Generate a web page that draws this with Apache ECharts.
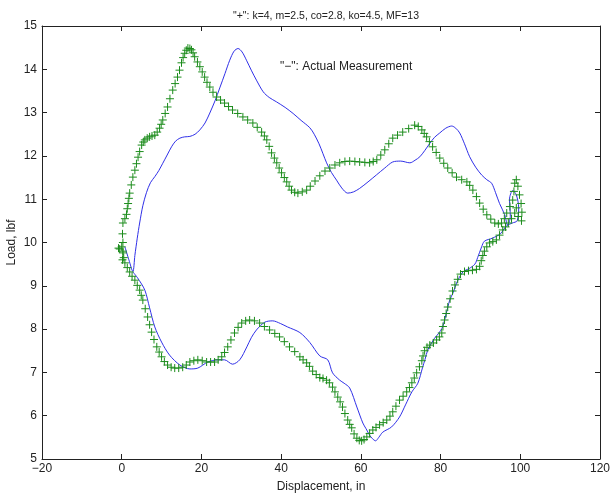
<!DOCTYPE html>
<html><head><meta charset="utf-8">
<script src="https://cdn.jsdelivr.net/npm/echarts@6/dist/echarts.min.js"></script>
<style>html,body{margin:0;padding:0;background:#fff}#c{width:613px;height:495px}</style>
</head><body><div id="c"></div>
<script>
var titleText = '"+": k=4, m=2.5, co=2.8, ko=4.5, MF=13';
var noteText = '"\u2212": Actual Measurement';
var xTicks = [-20, 0, 20, 40, 60, 80, 100, 120];
var yTicks = [5, 6, 7, 8, 9, 10, 11, 12, 13, 14, 15];

// Actual measurement (blue line), in drawing order
var measuredX = [0.8,1.8,2.8,3.3,3.9,4.5,5.3,6.2,7.2,8.3,9.3,10.3,11.4,12.5,13.5,14.6,15.8,17.1,18.4,19.6,20.9,22.1,23.4,24.6,25.9,27.1,28.2,29.2,30.2,31.3,32.5,33.8,35.5,37,38.8,41,43,45,47.2,48.3,49.5,50.5,51.4,52.6,53.9,55.2,56.7,58.2,59.7,61.8,63.9,66,68,70,72.3,73.6,74.8,76,77.3,78.5,79.8,81.3,82.8,83.8,84.8,86,87.3,88.8,90.3,91.6,92.8,93.8,94.8,96.1,96.8,97.5,97.3,98.1,99,99.6,99.2,98,96.5,95,93,91,90.3,89.3,88.6,87.2,85.6,84,83.2,82.3,81.4,80.5,79.5,78.5,76.8,76.1,75.5,74.3,72.8,71.2,69.7,67.7,65.5,64.5,63.7,62.9,62.2,61.3,60.5,59,57.2,55.8,54.7,52.9,51.7,49.7,47.2,44.7,41.6,39.8,37.9,35.9,33.8,32.5,31.4,29.6,27.8,25.8,24.1,21.6,19.1,17.1,14.6,12,10,8.3,7,5.8,4,2.8];
var measuredY = [9.9,9.6,9.33,9.7,10.1,10.45,10.85,11.15,11.38,11.52,11.66,11.83,12.02,12.21,12.34,12.41,12.44,12.45,12.5,12.6,12.76,12.99,13.27,13.57,13.9,14.21,14.42,14.48,14.4,14.21,13.98,13.75,13.48,13.35,13.25,13.12,12.98,12.82,12.65,12.5,12.28,12.05,11.84,11.62,11.44,11.26,11.14,11.17,11.25,11.4,11.56,11.72,11.86,11.88,11.84,11.9,11.98,12.12,12.29,12.43,12.53,12.64,12.69,12.64,12.53,12.28,11.98,11.74,11.56,11.45,11.37,11.15,10.9,10.64,10.4,10.6,11.0,11.2,11.1,10.8,10.5,10.45,10.38,10.2,10.1,10.03,9.9,9.65,9.5,9.4,9.32,9.06,8.85,8.67,8.35,8.05,7.9,7.79,7.52,7.3,7.12,6.75,6.55,6.25,5.97,5.74,5.62,5.5,5.42,5.47,5.55,5.7,5.83,6.2,6.64,6.75,6.82,6.99,7.29,7.38,7.69,7.92,8.05,8.13,8.19,8.16,7.98,7.8,7.59,7.29,7.19,7.29,7.29,7.24,7.1,7.08,7.17,7.4,7.7,8.05,8.49,8.9,9.18,9.32];

// Model (green "+" markers)
var modelX = [-0.8,-0.5,0,0.2,0.3,0.3,0.2,0.3,0.8,1.2,1.4,1.6,1.8,2,2.4,2.8,3.3,3.7,4.1,4.5,5,5.4,5.8,6.4,7,7.6,8.3,8.9,9.5,9.9,10.3,10.9,11.5,12.1,12.8,13.4,14,14.5,15,15.4,15.8,16.2,16.6,17.1,17.5,17.9,18.3,19,19.6,20.2,20.8,21.4,22.1,22.9,23.8,24.8,25.8,26.8,27.8,29.1,30.4,31.6,32.9,34,35.1,35.8,36.4,37,37.6,38.3,38.9,39.5,40.1,40.8,41.4,42,42.6,43.4,44.2,45.3,46.4,47.3,48.5,49.7,51,52.2,53.5,54.7,56,57.2,58.5,59.7,61,62.2,63.1,64,65,66,67,68,69.2,70.5,72,73.5,74.4,75.3,75.9,76.5,77.2,78,78.9,79.8,80.8,81.8,82.9,84,85.3,86.6,87.3,88.1,89,89.8,90.7,91.6,92.6,93.6,94.5,95.3,96,96.6,97.4,98.1,98.4,98.6,99,99.4,99.8,100.2,100.4,100.3,99.5,99,98.6,97.8,97,96.3,95.6,94.8,94,93.1,92.3,91.6,91,90.6,90.2,89.8,89,88,87,86,85,84.3,83.6,83,82.4,81.8,81.4,81,80.6,80.3,79.7,79,78.2,77.3,76.6,76,75.6,75.3,74.7,74,73.4,72.8,72.2,71.5,70.6,69.7,68.8,68,67.3,66.5,65.6,64.7,63.8,63,62.2,61.5,60.8,60.2,59.6,59,58.3,57.7,57.2,56.7,56,55.4,54.8,54.2,53.5,52.9,52.1,51.4,50.5,49.7,48.8,47.9,47.1,46.4,45.5,44.7,43.4,42.1,40.8,39.6,38.4,37.1,35.8,34.6,33.3,32.1,31.1,30.1,29.2,28.3,27.4,26.6,25.8,25.1,24.2,23.3,22.3,21.3,20.2,19.1,18.1,17.1,16.2,15.3,14.3,13.3,12.4,11.5,10.7,10,9.4,8.8,8.1,7.5,7,6.5,5.9,5.3,4.9,4.5,3.9,3.3,2.6,2,1.4,0.8,0.5,0.3];
var modelY = [9.87,9.85,9.9,9.6,9.8,10.0,10.2,10.45,10.55,10.65,10.78,10.9,11.02,11.14,11.33,11.51,11.67,11.82,11.97,12.1,12.25,12.32,12.37,12.41,12.44,12.46,12.48,12.55,12.64,12.73,12.83,12.98,13.13,13.32,13.52,13.67,13.82,13.98,14.15,14.27,14.37,14.44,14.49,14.48,14.45,14.38,14.29,14.17,14.06,13.94,13.82,13.7,13.59,13.47,13.36,13.29,13.22,13.14,13.06,12.98,12.9,12.83,12.76,12.66,12.55,12.46,12.37,12.22,12.07,11.95,11.84,11.72,11.61,11.5,11.4,11.3,11.21,11.16,11.14,11.17,11.21,11.3,11.42,11.54,11.65,11.72,11.79,11.84,11.87,11.88,11.87,11.86,11.85,11.84,11.87,11.91,12.02,12.14,12.28,12.41,12.48,12.55,12.63,12.71,12.68,12.6,12.52,12.44,12.33,12.21,12.08,11.95,11.83,11.72,11.61,11.51,11.45,11.4,11.32,11.21,11.06,10.91,10.77,10.64,10.54,10.45,10.43,10.45,10.55,10.68,10.83,10.98,11.18,11.37,11.45,11.3,11.1,10.9,10.7,10.5,10.6,10.8,10.68,10.55,10.45,10.36,10.29,10.17,10.06,10.02,9.99,9.9,9.8,9.7,9.58,9.45,9.38,9.36,9.35,9.33,9.27,9.15,9.02,8.88,8.7,8.51,8.36,8.21,8.06,7.91,7.82,7.75,7.68,7.63,7.58,7.5,7.38,7.27,7.13,6.99,6.87,6.76,6.65,6.55,6.45,6.36,6.22,6.09,5.99,5.9,5.84,5.79,5.73,5.67,5.59,5.51,5.45,5.42,5.43,5.48,5.58,5.72,5.8,5.9,6.05,6.2,6.32,6.43,6.55,6.66,6.76,6.82,6.86,6.88,6.95,7.03,7.14,7.22,7.29,7.36,7.48,7.59,7.71,7.82,7.9,7.98,8.06,8.14,8.19,8.21,8.19,8.14,8.04,7.91,7.75,7.59,7.46,7.36,7.29,7.24,7.24,7.24,7.27,7.29,7.27,7.24,7.17,7.12,7.1,7.1,7.12,7.17,7.25,7.36,7.47,7.59,7.76,7.93,8.1,8.28,8.47,8.67,8.78,8.9,9.01,9.13,9.22,9.32,9.42,9.53,9.65,9.76];

function pairs(xs, ys){ var out=[]; for (var i=0;i<xs.length;i++) out.push([xs[i], ys[i]]); return out; }
function fmt(v){ return String(v).replace('-', '\u2212'); }

var font = 'Liberation Sans, Arial, sans-serif';
var axisCol = '#222';
var chart = echarts.init(document.getElementById('c'), null, {renderer:'canvas'});
var xMin = xTicks[0], xMax = xTicks[xTicks.length-1], yMin = yTicks[0], yMax = yTicks[yTicks.length-1];
var baseX = {type:'value', min:xMin, max:xMax, interval:20, splitLine:{show:false},
  axisLine:{show:true, onZero:false, lineStyle:{color:axisCol, width:1}},
  axisTick:{show:true, inside:true, length:5, lineStyle:{color:axisCol}}};
var baseY = {type:'value', min:yMin, max:yMax, interval:1, splitLine:{show:false},
  axisLine:{show:true, onZero:false, lineStyle:{color:axisCol, width:1}},
  axisTick:{show:true, inside:true, length:5, lineStyle:{color:axisCol}}};
chart.setOption({
  animation:false,
  backgroundColor:'#fff',
  title:{text:titleText, left:321, top:6, textAlign:'center', textStyle:{fontFamily:font, fontSize:10.5, fontWeight:'normal', color:'#222'}},
  grid:{left:42, right:13, top:26, bottom:36, containLabel:false, outerBoundsMode:'none'},
  xAxis:[
    Object.assign({}, baseX, {position:'bottom', name:'Displacement, in', nameLocation:'middle', nameGap:22, nameMoveOverlap:false,
      nameTextStyle:{fontFamily:font, fontSize:12, color:'#222'},
      axisLabel:{fontFamily:font, fontSize:12, color:'#222', margin:4, formatter:fmt}}),
    Object.assign({}, baseX, {position:'top', axisLabel:{show:false}})
  ],
  yAxis:[
    Object.assign({}, baseY, {position:'left', name:'Load, lbf', nameLocation:'middle', nameGap:24, nameMoveOverlap:false,
      nameTextStyle:{fontFamily:font, fontSize:12, color:'#222'},
      axisLabel:{fontFamily:font, fontSize:12, color:'#222', margin:5, formatter:fmt}}),
    Object.assign({}, baseY, {position:'right', axisLabel:{show:false}})
  ],
  graphic:[{type:'text', left:280, top:61, style:{text:noteText, fontFamily:font, fontSize:12, fill:'#222'}}],
  series:[
    {type:'line', data:pairs(measuredX, measuredY), showSymbol:false, symbol:'none', smooth:0.3,
     lineStyle:{color:'#3030e8', width:1}, z:2},
    {type:'scatter', data:pairs(modelX, modelY), symbol:'path://M5,0L5,10M0,5L10,5', symbolSize:8,
     itemStyle:{color:'none', borderColor:'#1c8c1c', borderWidth:1, opacity:1}, z:3}
  ]
});
</script></body></html>
